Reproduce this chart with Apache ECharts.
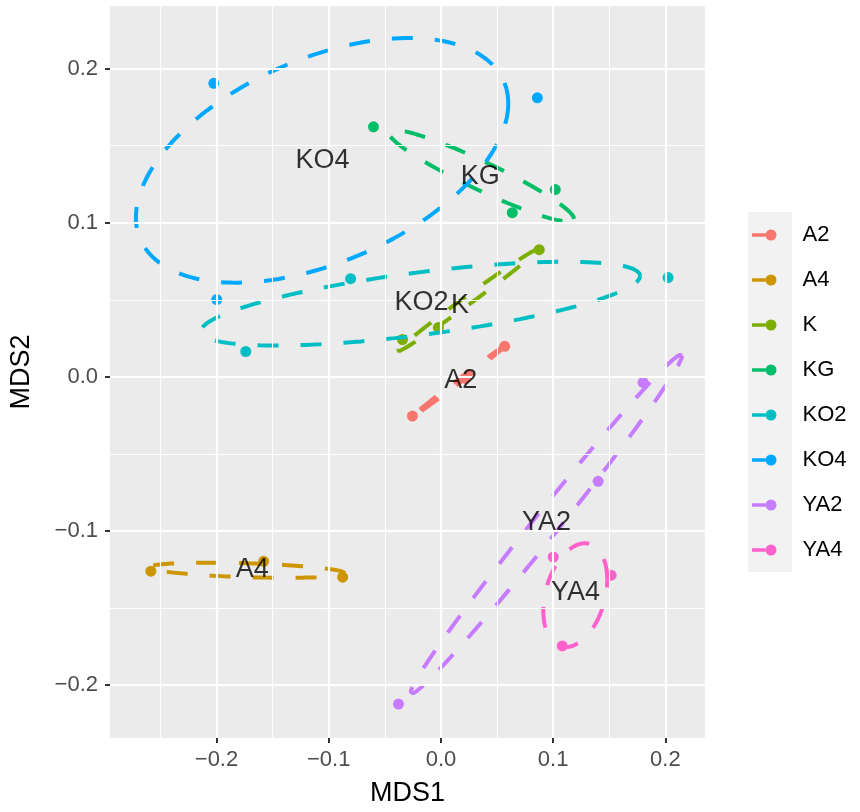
<!DOCTYPE html>
<html>
<head>
<meta charset="utf-8">
<script src="https://cdn.jsdelivr.net/npm/echarts@6/dist/echarts.min.js"></script>
<style>
  html, body { margin: 0; padding: 0; background: #ffffff; }
  #chart { width: 860px; height: 812px; }
</style>
</head>
<body>
<div id="chart"></div>
<script>
// ---------------- data ----------------
const groups = ['A2', 'A4', 'K', 'KG', 'KO2', 'KO4', 'YA2', 'YA4'];

// sample coordinates (MDS1, MDS2) per group
const A2_MDS1 = [-0.0254, 0.0218, 0.0568];
const A2_MDS2 = [-0.0255, -0.0011, 0.0198];
const A4_MDS1 = [-0.2585, -0.1580, -0.0876];
const A4_MDS2 = [-0.1262, -0.1198, -0.1301];
const K_MDS1 = [-0.0343, -0.0022, 0.0876];
const K_MDS2 = [0.0242, 0.0320, 0.0825];
const KG_MDS1 = [-0.0601, 0.1019, 0.0636];
const KG_MDS2 = [0.1623, 0.1215, 0.1065];
const KO2_MDS1 = [-0.0805, 0.2024, -0.1739];
const KO2_MDS2 = [0.0637, 0.0644, 0.0164];
const KO4_MDS1 = [-0.2024, -0.1998, 0.0859];
const KO4_MDS2 = [0.1905, 0.0501, 0.1811];
const YA2_MDS1 = [-0.0378, 0.1401, 0.1801];
const YA2_MDS2 = [-0.2125, -0.0679, -0.0037];
const YA4_MDS1 = [0.1001, 0.1517, 0.1081];
const YA4_MDS2 = [-0.1170, -0.1288, -0.1747];

// 95% ellipse parameters per group (centre, half-extent in x / y, correlation)
const ellCx = [0.0156, -0.1726, 0.0236, 0.0360, -0.0182, -0.1059, 0.0939, 0.1197];
const ellCy = [-0.0030, -0.1256, 0.0495, 0.1305, 0.0475, 0.1405, -0.0957, -0.1418];
const ellSx = [0.0418, 0.0872, 0.0623, 0.0827, 0.1957, 0.1659, 0.1210, 0.0285];
const ellSy = [0.0233, 0.0049, 0.0331, 0.0298, 0.0272, 0.0794, 0.1102, 0.0337];
const ellR  = [0.998, -0.40, 0.995, -0.94, 0.66, 0.465, 0.993, 0.30];

// axis ticks
const xMajor = [-0.2, -0.1, 0.0, 0.1, 0.2];
const xMinor = [-0.25, -0.15, -0.05, 0.05, 0.15];
const yMajor = [-0.2, -0.1, 0.0, 0.1, 0.2];
const yMinor = [-0.15, -0.05, 0.05, 0.15];
const xRange = [-0.2949, 0.2353];
const yRange = [-0.2345, 0.2407];

// ---------------- build ----------------
const palette = ['#F8766D', '#CD9600', '#7CAE00', '#00BE67', '#00BFC4', '#00A9FF', '#C77CFF', '#FF61CC'];
const groupX = [A2_MDS1, A4_MDS1, K_MDS1, KG_MDS1, KO2_MDS1, KO4_MDS1, YA2_MDS1, YA4_MDS1];
const groupY = [A2_MDS2, A4_MDS2, K_MDS2, KG_MDS2, KO2_MDS2, KO4_MDS2, YA2_MDS2, YA4_MDS2];
const FONT = '"Liberation Sans", Arial, Helvetica, sans-serif';
const fmt = v => (Math.abs(v) < 1e-9 ? '0.0' : v.toFixed(1).replace('-', '\u2212'));

function ellipsePath(i) {
  const n = 160, out = [];
  const s = Math.sqrt(1 - ellR[i] * ellR[i]);
  for (let k = 0; k <= n; k++) {
    const t = 2 * Math.PI * k / n;
    out.push([ellCx[i] + ellSx[i] * Math.cos(t),
              ellCy[i] + ellSy[i] * (ellR[i] * Math.cos(t) + s * Math.sin(t))]);
  }
  return out;
}

const series = [];
// grid lines (panel background drawn by grid)
const gridLines = [];
xMinor.forEach(v => gridLines.push({ xAxis: v, lineStyle: { width: 1.1 } }));
yMinor.forEach(v => gridLines.push({ yAxis: v, lineStyle: { width: 1.1 } }));
xMajor.forEach(v => gridLines.push({ xAxis: v, lineStyle: { width: 2.2 } }));
yMajor.forEach(v => gridLines.push({ yAxis: v, lineStyle: { width: 2.2 } }));
series.push({
  type: 'scatter', data: [], silent: true, z: 1,
  markLine: {
    silent: true, symbol: ['none', 'none'], label: { show: false },
    lineStyle: { color: '#FFFFFF', type: 'solid' },
    animation: false, data: gridLines
  }
});

groups.forEach((g, i) => {
  const pts = groupX[i].map((x, j) => [x, groupY[i][j]]);
  series.push({
    name: g, type: 'scatter', data: pts, symbolSize: 11, z: 2,
    itemStyle: { color: palette[i], opacity: 1 }
  });
  series.push({
    name: g, type: 'line', data: ellipsePath(i), showSymbol: false, symbol: 'none', z: 3,
    itemStyle: { color: palette[i] },
    lineStyle: { color: palette[i], width: 4, type: [21, 22], cap: 'butt' },
    silent: true
  });
});

// group labels at centroids
const labelData = groups.map((g, i) => {
  const xs = groupX[i], ys = groupY[i];
  return [xs.reduce((a, b) => a + b, 0) / xs.length, ys.reduce((a, b) => a + b, 0) / ys.length, g];
});
series.push({
  type: 'scatter', data: labelData, symbolSize: 1, z: 5, silent: true,
  itemStyle: { color: 'rgba(0,0,0,0)' },
  label: {
    show: true, position: 'inside', formatter: p => p.data[2],
    color: '#000000', fontSize: 27, fontFamily: FONT
  }
});

const keyIcon = 'path://M0,3.7 L13.5,3.7 L13.5,7.3 L0,7.3 Z M13.5,5.5 A5.5,5.5 0 1 1 24.5,5.5 A5.5,5.5 0 1 1 13.5,5.5 Z';

const option = {
  animation: false,
  backgroundColor: '#FFFFFF',
  textStyle: { fontFamily: FONT },
  grid: { left: 109, right: 155, top: 6, bottom: 73, show: true, backgroundColor: '#EBEBEB', borderWidth: 0 },
  graphic: [{
    type: 'rect', left: 748, top: 212, z: 0, silent: true,
    shape: { width: 44, height: 360 }, style: { fill: '#F2F2F2' }
  }],
  legend: {
    orient: 'vertical', left: 752, top: 222, padding: 0,
    data: groups, icon: keyIcon, itemWidth: 24.5, itemHeight: 11, itemGap: 19,
    selectedMode: false,
    textStyle: { fontSize: 22, color: '#000000', fontFamily: FONT, lineHeight: 26, padding: [0, 0, 0, 21] }
  },
  xAxis: {
    type: 'value', min: xRange[0], max: xRange[1],
    name: 'MDS1', nameLocation: 'middle', nameGap: 42,
    nameTextStyle: { fontSize: 27, color: '#000000', fontFamily: FONT },
    axisLine: { show: false, onZero: false },
    axisTick: { show: true, length: 5, customValues: xMajor, lineStyle: { color: '#333333', width: 2 } },
    axisLabel: { customValues: xMajor, formatter: fmt, fontSize: 22, color: '#4D4D4D', margin: 11, fontFamily: FONT },
    splitLine: { show: false }
  },
  yAxis: {
    type: 'value', min: yRange[0], max: yRange[1],
    name: 'MDS2', nameLocation: 'middle', nameGap: 75, nameRotate: 90,
    nameTextStyle: { fontSize: 27, color: '#000000', fontFamily: FONT },
    axisLine: { show: false, onZero: false },
    axisTick: { show: true, length: 5, customValues: yMajor, lineStyle: { color: '#333333', width: 2 } },
    axisLabel: { customValues: yMajor, formatter: fmt, fontSize: 22, color: '#4D4D4D', margin: 12, fontFamily: FONT },
    splitLine: { show: false }
  },
  series: series
};

const chart = echarts.init(document.getElementById('chart'), null, { renderer: 'canvas' });
chart.setOption(option);
</script>
</body>
</html>
